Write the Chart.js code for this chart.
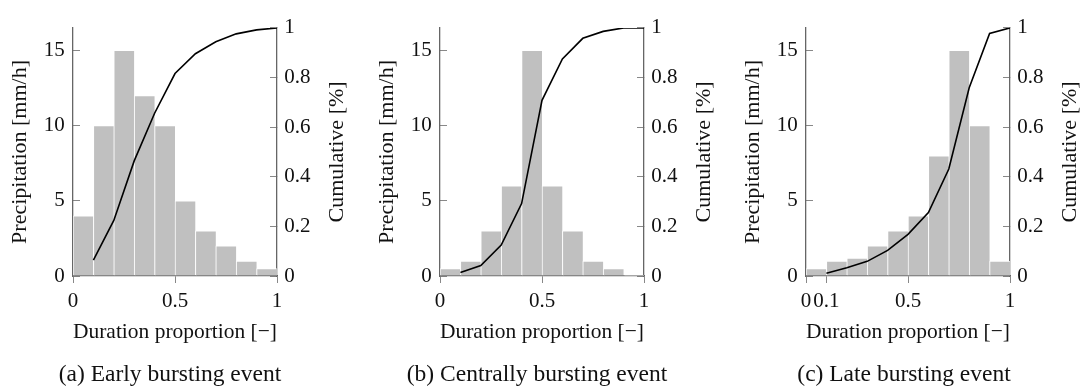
<!DOCTYPE html>
<html>
<head>
<meta charset="utf-8">
<script src="https://cdn.jsdelivr.net/npm/chart.js@4.4.1/dist/chart.umd.min.js"></script>
<style>
  html, body { margin: 0; padding: 0; background: #fff; overflow: hidden; width: 1081px; height: 390px; }
  .panel { position: absolute; top: 0; }
  .cap {
    position: absolute; top: 359px; width: 340px; text-align: center;
    font: 23.5px/28px 'Liberation Serif', serif; color: #111; white-space: nowrap;
  }
</style>
</head>
<body>
<canvas id="p0" class="panel" width="353" height="390" style="left:0px"></canvas>
<canvas id="p1" class="panel" width="353" height="390" style="left:367px"></canvas>
<canvas id="p2" class="panel" width="353" height="390" style="left:733px"></canvas>
<div class="cap" style="left:0px">(a) Early bursting event</div>
<div class="cap" style="left:367px">(b) Centrally bursting event</div>
<div class="cap" style="left:734px">(c) Late bursting event</div>
<script>
// 히스토그램 구간 중심 / 누적 곡선 x
const binCenters = [0.05, 0.15, 0.25, 0.35, 0.45, 0.55, 0.65, 0.75, 0.85, 0.95];
const cumX       = [0.1, 0.2, 0.3, 0.4, 0.5, 0.6, 0.7, 0.8, 0.9, 1.0];

const earlyRain   = [4, 10, 15, 12, 10, 5, 3, 2, 1, 0.5];
const earlyCum    = [0.064, 0.224, 0.464, 0.656, 0.816, 0.896, 0.944, 0.976, 0.992, 1];
const centralRain = [0.5, 1, 3, 6, 15, 6, 3, 1, 0.5, 0.05];
const centralCum  = [0.014, 0.042, 0.125, 0.292, 0.708, 0.875, 0.958, 0.986, 1, 1];
const lateRain    = [0.5, 1, 1.2, 2, 3, 4, 8, 15, 10, 1];
const lateCum     = [0.011, 0.033, 0.059, 0.103, 0.168, 0.256, 0.431, 0.759, 0.978, 1];

const xTicks     = [0, 0.5, 1];
const xTicksLate = [0, 0.1, 0.5, 1];
const rainTicks  = [0, 5, 10, 15];
const cumTicks   = [0, 0.2, 0.4, 0.6, 0.8, 1];

const FONT  = "'Liberation Serif', serif";
const TEXT  = '#111';
const BAR   = '#c0c0c0';
const AXIS  = '#666';
const TICK  = '#888';

Chart.defaults.font.family = FONT;
Chart.defaults.color = TEXT;

// 오른쪽 축 제목 (아래→위 회전)
const rightTitle = {
  id: 'rightTitle',
  afterDraw(chart) {
    const s = chart.scales.y2;
    const { ctx, chartArea } = chart;
    ctx.save();
    ctx.translate(s.left + 60, (chartArea.top + chartArea.bottom) / 2);
    ctx.rotate(-Math.PI / 2);
    ctx.font = `22px ${FONT}`;
    ctx.fillStyle = TEXT;
    ctx.textAlign = 'center';
    ctx.textBaseline = 'middle';
    ctx.fillText('Cumulative [%]', 0, 0);
    ctx.restore();
  },
};

const setTicks = (vals) => (scale) => { scale.ticks = vals.map((v) => ({ value: v })); };

function makePanel(id, rain, cum, xt) {
  return new Chart(document.getElementById(id), {
    type: 'bar',
    data: {
      datasets: [
        {
          type: 'line',
          data: cumX.map((x, i) => ({ x, y: cum[i] })),
          yAxisID: 'y2',
          borderColor: '#000',
          borderWidth: 1.6,
          pointRadius: 0,
          tension: 0,
          order: 0,
        },
        {
          type: 'bar',
          data: binCenters.map((x, i) => ({ x, y: rain[i] })),
          yAxisID: 'y',
          backgroundColor: BAR,
          borderColor: 'rgba(255,255,255,0.85)',
          borderWidth: { left: 1, right: 0, top: 1, bottom: 0 },
          barPercentage: 1,
          categoryPercentage: 1,
          order: 1,
        },
      ],
    },
    options: {
      responsive: false,
      animation: false,
      layout: { padding: { top: 12, left: 0, right: 0, bottom: 0 } },
      plugins: { legend: { display: false }, tooltip: { enabled: false } },
      scales: {
        x: {
          type: 'linear',
          position: 'bottom',
          min: 0,
          max: 1,
          offset: false,
          afterBuildTicks: setTicks(xt),
          afterFit: (s) => { s.height = 114; },
          grid: { offset: false, drawOnChartArea: false, tickLength: 7, color: TICK },
          border: { color: AXIS, width: 1.3 },
          ticks: {
            font: { size: 21 },
            padding: 5.8,
            autoSkip: false,
            minRotation: 0,
            maxRotation: 0,
            callback: (v) => String(v),
          },
          title: {
            display: true,
            text: 'Duration proportion [\u2212]',
            font: { size: 22 },
            padding: { top: 0, bottom: 45 },
          },
        },
        y: {
          type: 'linear',
          position: 'left',
          min: 0,
          max: 16.5,
          afterBuildTicks: setTicks(rainTicks),
          afterFit: (s) => { s.width = 73; },
          grid: { drawOnChartArea: false, tickLength: -7, color: TICK },
          border: { color: AXIS, width: 1.3 },
          ticks: { font: { size: 21 }, padding: 15.3, callback: (v) => String(v) },
          title: {
            display: true,
            text: 'Precipitation [mm/h]',
            font: { size: 22 },
            padding: { top: 7, bottom: 0 },
          },
        },
        y2: {
          type: 'linear',
          position: 'right',
          min: 0,
          max: 1,
          afterBuildTicks: setTicks(cumTicks),
          afterFit: (s) => { s.width = 76; },
          grid: { drawOnChartArea: false, tickLength: -7, color: TICK },
          border: { color: AXIS, width: 1.3 },
          ticks: { font: { size: 21 }, padding: 14.3, callback: (v) => String(v) },
        },
      },
    },
    plugins: [rightTitle],
  });
}

makePanel('p0', earlyRain, earlyCum, xTicks);
makePanel('p1', centralRain, centralCum, xTicks);
makePanel('p2', lateRain, lateCum, xTicksLate);
</script>
</body>
</html>
